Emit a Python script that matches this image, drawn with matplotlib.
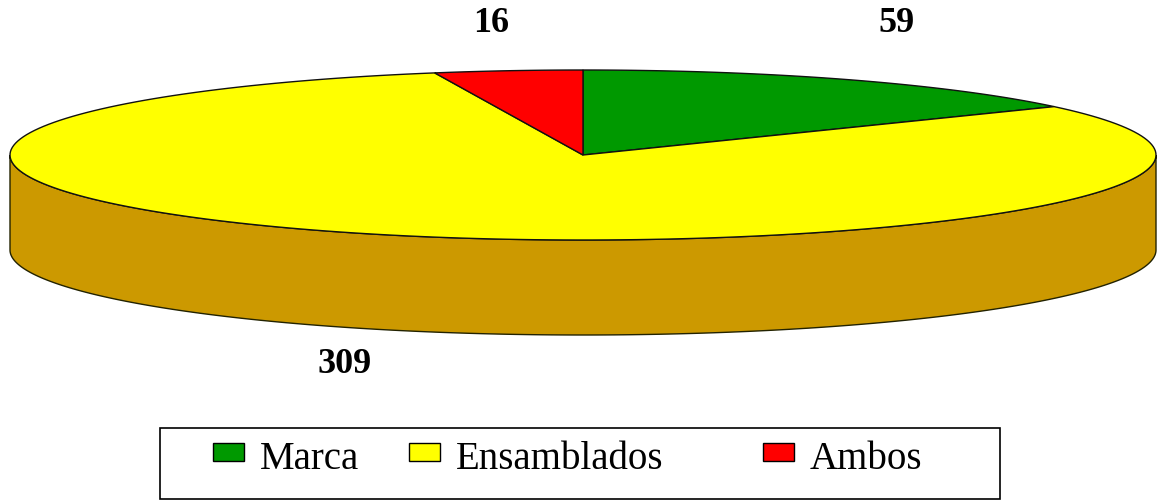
import numpy as np
import matplotlib.pyplot as plt
from matplotlib.patches import Polygon, Rectangle

# Slice data (clockwise from 12 o'clock)
labels = ['Marca', 'Ensamblados', 'Ambos']
values = [59, 309, 16]
top_colors = ['#009900', '#FFFF00', '#FF0000']
side_colors = ['#006600', '#CC9900', '#AA0000']

# 3D pie geometry in pixel units
CX, CY = 583, 155
RX, RY = 573, 85
DEPTH = 95

plt.rcParams['font.family'] = ['Liberation Serif', 'DejaVu Serif']

fig = plt.figure(figsize=(11.6, 5.01), dpi=100)
ax = fig.add_axes([0, 0, 1, 1])
ax.set_xlim(0, 1160)
ax.set_ylim(501, 0)
ax.axis('off')


def ellipse_pts(a0, a1, dy=0.0, n=200):
    t = np.radians(np.linspace(a0, a1, n))
    return np.column_stack([CX + RX * np.cos(t), CY - RY * np.sin(t) + dy])


total = sum(values)
spans = [v / total * 360 for v in values]
starts = 90 - np.concatenate([[0], np.cumsum(spans)[:-1]])

# side walls (front half only: angles between 180 and 360)
for start, span, sc in zip(starts, spans, side_colors):
    a_hi, a_lo = start, start - span
    # normalise so the front half lies in [-180, 0]
    for shift in (0, -360, 360):
        lo = max(a_lo + shift, -180)
        hi = min(a_hi + shift, 0)
        if hi > lo:
            top = ellipse_pts(lo, hi)
            bot = ellipse_pts(hi, lo, dy=DEPTH)
            ax.add_patch(Polygon(np.vstack([top, bot]), closed=True,
                                 facecolor=sc, edgecolor='#222200', lw=1.0))

# top faces
for start, span, tc in zip(starts, spans, top_colors):
    arc = ellipse_pts(start, start - span)
    pts = np.vstack([[CX, CY], arc])
    ax.add_patch(Polygon(pts, closed=True, facecolor=tc,
                         edgecolor='#111111', lw=1.0))

# value labels outside each slice
for start, span, v in zip(starts, spans, values):
    mid = np.radians(start - span / 2)
    x = CX + RX * 1.19 * np.cos(mid) - 3
    s = np.sin(mid)
    if s >= 0:
        y = CY - RY - 47
    else:
        y = CY - RY * s + DEPTH + 35
    ax.text(x, y, str(v), ha='center', va='center',
            fontsize=26, fontweight='bold', color='black')

# legend box
ax.add_patch(Rectangle((160, 428), 840, 71, facecolor='white',
                       edgecolor='black', lw=1.2))
legend_x = [213, 409, 763]
for lx, lab, tc in zip(legend_x, labels, top_colors):
    ax.add_patch(Rectangle((lx, 443), 31, 18, facecolor=tc,
                           edgecolor='black', lw=1.0))
    ax.text(lx + 47, 469, lab, ha='left', va='baseline', fontsize=28,
            color='black')

fig.savefig('out.png', dpi=100)
